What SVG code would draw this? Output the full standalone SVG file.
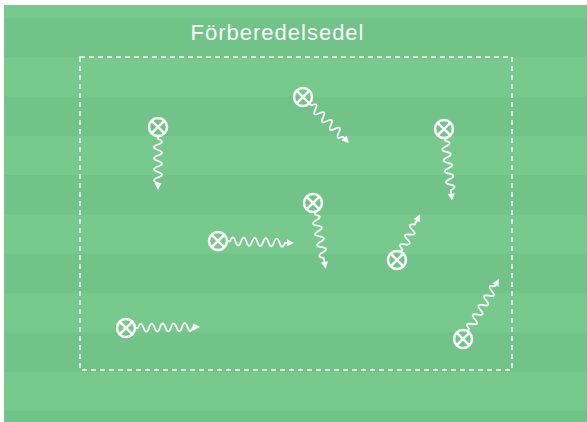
<svg xmlns="http://www.w3.org/2000/svg" width="587" height="422" viewBox="0 0 587 422">
<defs>
<style>
.dark{fill:#71c387}
.w{fill:none;stroke:#fff;stroke-width:1.8;stroke-linecap:round;stroke-linejoin:round}
.c{fill:none;stroke:#fff;stroke-width:2.5}
.a{fill:#fff}
.box{fill:none;stroke:#fff;stroke-width:1.5;stroke-dasharray:5,4}
.t{font-family:"Liberation Sans","Open Sans",sans-serif;font-size:22px;fill:#fff}
</style>
<g id="pl">
<circle class="c" cx="0" cy="0" r="9"/>
<path class="c" d="M-6.2,-6.2 L6.2,6.2 M6.2,-6.2 L-6.2,6.2"/>
</g>
</defs>
<rect x="0" y="0" width="587" height="422" fill="#ffffff"/>
<rect x="4" y="5" width="583" height="417" fill="#77ca8c"/>
<g id="stripes">
<rect class="dark" x="4" y="18" width="583" height="39.3"/>
<rect class="dark" x="4" y="96.6" width="583" height="39.3"/>
<rect class="dark" x="4" y="175.2" width="583" height="39.3"/>
<rect class="dark" x="4" y="253.8" width="583" height="39.3"/>
<rect class="dark" x="4" y="332.4" width="583" height="39.3"/>
<rect class="dark" x="4" y="411" width="583" height="11"/>
</g>
<text class="t" x="277" y="40" text-anchor="middle" textLength="173">Förberedelsedel</text>
<rect id="field" class="box" x="80" y="57" width="432" height="313"/>
<g id="connectors">
<path class="w" transform="translate(158,127) rotate(90)" d="M10,0 h2 q2.75,-8 5.5,0 t5.5,0 t5.5,0 t5.5,0 t5.5,0 t5.5,0 t5.5,0 t5.5,0 H56"/>
<polygon class="a" transform="translate(158,127) rotate(90)" points="56,-3.5 63,0 56,3.5"/>
<path class="w" transform="translate(303,97) rotate(45)" d="M10,0 h2 q2.75,-8 5.5,0 t5.5,0 t5.5,0 t5.5,0 t5.5,0 t5.5,0 t5.5,0 t5.5,0 H58"/>
<polygon class="a" transform="translate(303,97) rotate(45)" points="58,-3.5 65,0 58,3.5"/>
<path class="w" transform="translate(444,129) rotate(83.6)" d="M10,0 h2 q2.75,-8 5.5,0 t5.5,0 t5.5,0 t5.5,0 t5.5,0 t5.5,0 t5.5,0 t5.5,0 t5.5,0 H65"/>
<polygon class="a" transform="translate(444,129) rotate(83.6)" points="65,-3.5 72,0 65,3.5"/>
<path class="w" transform="translate(218,241) rotate(1.5)" d="M10,0 h2 q2.75,-8 5.5,0 t5.5,0 t5.5,0 t5.5,0 t5.5,0 t5.5,0 t5.5,0 t5.5,0 t5.5,0 t5.5,0 H69"/>
<polygon class="a" transform="translate(218,241) rotate(1.5)" points="69,-3.5 76,0 69,3.5"/>
<path class="w" transform="translate(313,203) rotate(79)" d="M10,0 h2 q2.75,-8 5.5,0 t5.5,0 t5.5,0 t5.5,0 t5.5,0 t5.5,0 t5.5,0 t5.5,0 H60"/>
<polygon class="a" transform="translate(313,203) rotate(79)" points="60,-3.5 67,0 60,3.5"/>
<path class="w" transform="translate(397,260) rotate(-63.4)" d="M10,0 h2 q2.75,-8 5.5,0 t5.5,0 t5.5,0 t5.5,0 t5.5,0 H44"/>
<polygon class="a" transform="translate(397,260) rotate(-63.4)" points="44,-3.5 51,0 44,3.5"/>
<path class="w" transform="translate(126,328) rotate(-0.8)" d="M10,0 h2 q2.75,-8 5.5,0 t5.5,0 t5.5,0 t5.5,0 t5.5,0 t5.5,0 t5.5,0 t5.5,0 t5.5,0 t5.5,0 H67"/>
<polygon class="a" transform="translate(126,328) rotate(-0.8)" points="67,-3.5 74,0 67,3.5"/>
<path class="w" transform="translate(463,339) rotate(-59)" d="M10,0 h2 q2.75,-8 5.5,0 t5.5,0 t5.5,0 t5.5,0 t5.5,0 t5.5,0 t5.5,0 t5.5,0 t5.5,0 H63"/>
<polygon class="a" transform="translate(463,339) rotate(-59)" points="63,-3.5 70,0 63,3.5"/>
</g>
<g id="p1"><use href="#pl" x="158" y="127"/></g>
<g id="p2"><use href="#pl" x="303" y="97"/></g>
<g id="p3"><use href="#pl" x="444" y="129"/></g>
<g id="p4"><use href="#pl" x="218" y="241"/></g>
<g id="p5"><use href="#pl" x="313" y="203"/></g>
<g id="p6"><use href="#pl" x="397" y="260"/></g>
<g id="p7"><use href="#pl" x="126" y="328"/></g>
<g id="p8"><use href="#pl" x="463" y="339"/></g>
</svg>
